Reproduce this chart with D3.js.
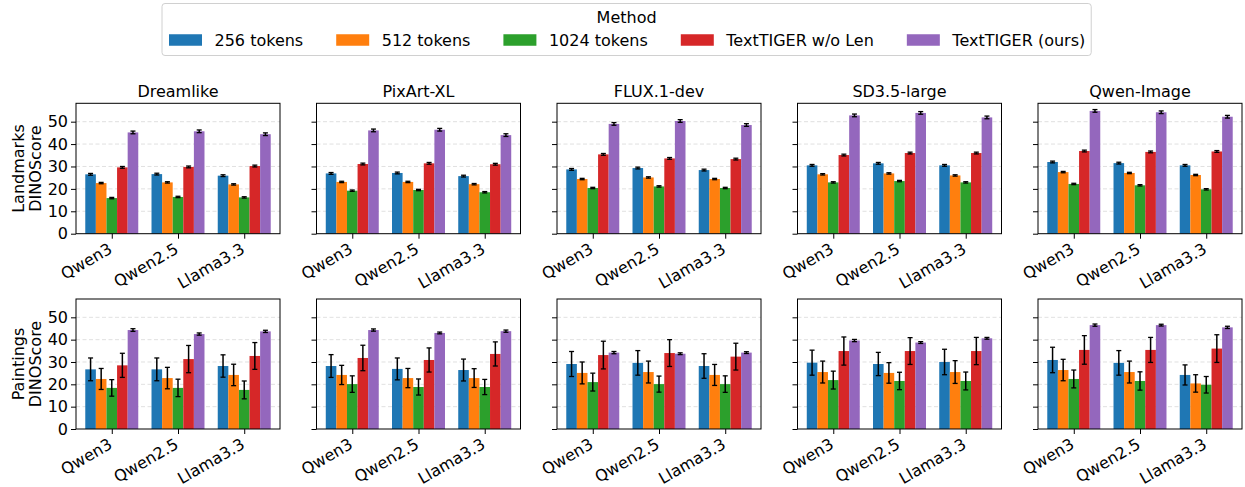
<!DOCTYPE html>
<html><head><meta charset="utf-8">
<script src="https://cdn.jsdelivr.net/npm/d3@7"></script>
<style>body{margin:0;background:#fff}svg{display:block}text{font-family:"DejaVu Sans",sans-serif}</style>
</head><body><svg id="chart" width="1245" height="487"></svg>
<script>
const methods = ["256 tokens","512 tokens","1024 tokens","TextTIGER w/o Len","TextTIGER (ours)"];
const colors = ["#1f77b4","#ff7f0e","#2ca02c","#d62728","#9467bd"];
const llms = ["Qwen3","Qwen2.5","Llama3.3"];
const models = ["Dreamlike","PixArt-XL","FLUX.1-dev","SD3.5-large","Qwen-Image"];
const rowNames = ["Landmarks","Paintings"];
const yTicks = [0,10,20,30,40,50];

// model -> llm -> method
const landmarksMean = [
  [[26.5,22.6,15.9,29.6,45.2],[26.6,22.9,16.4,29.8,45.7],[25.9,22.0,16.2,30.2,44.4]],
  [[26.9,23.1,19.2,31.1,46.1],[27.1,23.1,19.5,31.4,46.4],[25.7,22.1,18.5,31.0,44.0]],
  [[28.7,24.4,20.4,35.4,49.0],[29.3,25.1,21.1,33.6,50.3],[28.4,24.4,20.4,33.3,48.5]],
  [[30.5,26.5,22.9,35.1,52.8],[31.4,26.9,23.5,36.0,53.9],[30.5,26.0,22.9,36.0,51.9]],
  [[32.0,27.5,22.2,36.9,54.8],[31.5,27.1,21.6,36.5,54.2],[30.5,26.2,19.8,36.7,52.2]]
];
const landmarksErr = [
  [[0.4,0.3,0.3,0.4,0.6],[0.4,0.3,0.3,0.4,0.6],[0.4,0.3,0.3,0.4,0.6]],
  [[0.4,0.3,0.3,0.4,0.6],[0.4,0.3,0.3,0.4,0.6],[0.4,0.3,0.3,0.4,0.6]],
  [[0.4,0.3,0.3,0.4,0.6],[0.4,0.3,0.3,0.4,0.6],[0.4,0.3,0.3,0.4,0.6]],
  [[0.4,0.3,0.3,0.4,0.6],[0.4,0.3,0.3,0.4,0.6],[0.4,0.3,0.3,0.4,0.6]],
  [[0.4,0.3,0.3,0.4,0.6],[0.4,0.3,0.3,0.4,0.6],[0.4,0.3,0.3,0.4,0.6]]
];
const paintingsMean = [
  [[26.7,22.4,18.4,28.5,44.3],[26.7,22.8,18.4,31.3,42.5],[28.2,24.2,17.5,32.7,43.7]],
  [[28.2,24.2,20.1,31.8,44.3],[26.9,22.8,18.8,30.9,43.0],[26.4,22.8,18.8,33.6,43.8]],
  [[29.1,25.1,21.0,33.1,34.2],[29.6,25.5,20.1,34.0,33.7],[28.2,24.2,20.1,32.4,34.2]],
  [[29.7,25.5,21.9,34.9,39.6],[29.1,25.1,21.5,34.9,38.7],[30.0,25.5,21.5,34.9,40.6]],
  [[30.9,26.4,22.4,35.4,46.5],[29.6,25.5,21.5,35.4,46.5],[24.2,20.4,19.8,36.0,45.5]]
];
const paintingsErr = [
  [[5.1,4.7,3.7,5.4,0.6],[5.1,4.8,3.9,6.1,0.5],[5.0,4.8,4.0,6.0,0.5]],
  [[5.1,4.3,3.7,5.7,0.5],[4.9,4.3,3.6,5.4,0.4],[4.9,4.2,3.4,5.4,0.5]],
  [[5.6,4.9,4.0,6.2,0.5],[5.5,4.9,3.6,6.0,0.4],[5.5,4.7,3.7,6.0,0.4]],
  [[5.6,4.9,4.0,6.3,0.5],[5.2,4.6,3.9,6.0,0.4],[5.7,5.1,4.0,6.1,0.4]],
  [[5.7,4.8,4.0,6.4,0.5],[5.5,4.9,4.1,5.6,0.4],[4.5,3.9,3.7,6.2,0.5]]
];
const rowMeans = [landmarksMean, paintingsMean];
const rowErrs = [landmarksErr, paintingsErr];

const svg = d3.select("#chart");
const FS = 16;
const panelW = 204, colStep = 240.5, left0 = 76;
const rowTop = [103.3, 299], rowBottom = [233.7, 429];
const barW = 0.16;

rowNames.forEach((rn, r) => {
  const y = d3.scaleLinear().domain([0, 58.2]).range([rowBottom[r], rowTop[r]]);
  models.forEach((mn, c) => {
    const x0 = left0 + c * colStep;
    const x = d3.scaleLinear().domain([-0.54, 2.54]).range([x0, x0 + panelW]);
    const g = svg.append("g");
    g.selectAll("line.grid").data(yTicks.slice(1)).join("line")
      .attr("x1", x0).attr("x2", x0 + panelW)
      .attr("y1", d => y(d)).attr("y2", d => y(d))
      .attr("stroke", "#dcdcdc").attr("stroke-width", 0.9).attr("stroke-dasharray", "4,2.5");
    const means = rowMeans[r][c], errs = rowErrs[r][c];
    llms.forEach((ln, i) => {
      methods.forEach((m, j) => {
        const cx = i + (j - 2) * barW;
        const v = means[i][j], e = errs[i][j];
        g.append("rect")
          .attr("x", x(cx - barW / 2)).attr("width", x(barW) - x(0))
          .attr("y", y(v)).attr("height", y(0) - y(v))
          .attr("fill", colors[j]);
        const px = x(cx);
        g.append("line").attr("x1", px).attr("x2", px).attr("y1", y(v - e)).attr("y2", y(v + e))
          .attr("stroke", "#000").attr("stroke-width", 1.5);
        [v - e, v + e].forEach(t => g.append("line")
          .attr("x1", px - 2.5).attr("x2", px + 2.5).attr("y1", y(t)).attr("y2", y(t))
          .attr("stroke", "#000").attr("stroke-width", 1.3));
      });
    });
    const ya = g.append("g").attr("transform", `translate(${x0},0)`)
      .call(d3.axisLeft(y).tickValues(yTicks).tickSize(5).tickPadding(3)
        .tickFormat(c === 0 ? d3.format("d") : () => ""));
    ya.select(".domain").remove();
    ya.selectAll("line").attr("stroke", "#000").attr("stroke-width", 1);
    ya.selectAll("text").attr("font-size", FS).attr("fill", "#000").attr("font-family", "DejaVu Sans");
    const xa = g.append("g").attr("transform", `translate(0,${rowBottom[r]})`)
      .call(d3.axisBottom(x).tickValues([0, 1, 2]).tickSize(5).tickFormat(d => llms[d]));
    xa.select(".domain").remove();
    xa.selectAll("line").attr("stroke", "#000").attr("stroke-width", 1);
    xa.selectAll("text").attr("font-size", FS).attr("fill", "#000").attr("font-family", "DejaVu Sans")
      .attr("text-anchor", "end").attr("x", 0).attr("y", 0).attr("dy", 0)
      .attr("transform", "translate(1,18.5) rotate(-30)");
    g.append("rect").attr("x", x0).attr("y", rowTop[r]).attr("width", panelW)
      .attr("height", rowBottom[r] - rowTop[r]).attr("fill", "none")
      .attr("stroke", "#000").attr("stroke-width", 1);
    if (r === 0) {
      g.append("text").attr("x", x0 + panelW / 2).attr("y", 97).attr("text-anchor", "middle")
        .attr("font-size", FS).text(mn);
    }
  });
  const yc = (rowTop[r] + rowBottom[r]) / 2;
  [[rn, 23.5], ["DINOScore", 41]].forEach(([t, bx]) => {
    svg.append("text").attr("transform", `translate(${bx},${yc}) rotate(-90)`)
      .attr("text-anchor", "middle").attr("font-size", FS).text(t);
  });
});

// legend
const lg = svg.append("g");
const box = lg.append("rect");
let cursor = 0;
const handleW = 33, handleH = 11.5, textPad = 12.5, colSp = 33;
methods.forEach((m, j) => {
  const it = lg.append("g");
  it.append("rect").attr("x", cursor).attr("y", 40 - handleH / 2).attr("width", handleW).attr("height", handleH).attr("fill", colors[j]);
  const t = it.append("text").attr("x", cursor + handleW + textPad).attr("y", 45.8).attr("font-size", FS).text(m);
  const w = t.node().getComputedTextLength();
  cursor += handleW + textPad + w + colSp;
});
const contentW = cursor - colSp;
const startX = 169;
lg.selectAll("g").attr("transform", `translate(${startX},0)`);
const bx0 = startX - 7, bx1 = startX + contentW + 6;
box.attr("x", bx0).attr("y", 3.5).attr("width", bx1 - bx0).attr("height", 52).attr("rx", 3)
  .attr("fill", "#fff").attr("stroke", "#d0d0d0").attr("stroke-width", 1);
lg.append("text").attr("x", (bx0 + bx1) / 2).attr("y", 22.5).attr("text-anchor", "middle").attr("font-size", FS).text("Method");
</script></body></html>
